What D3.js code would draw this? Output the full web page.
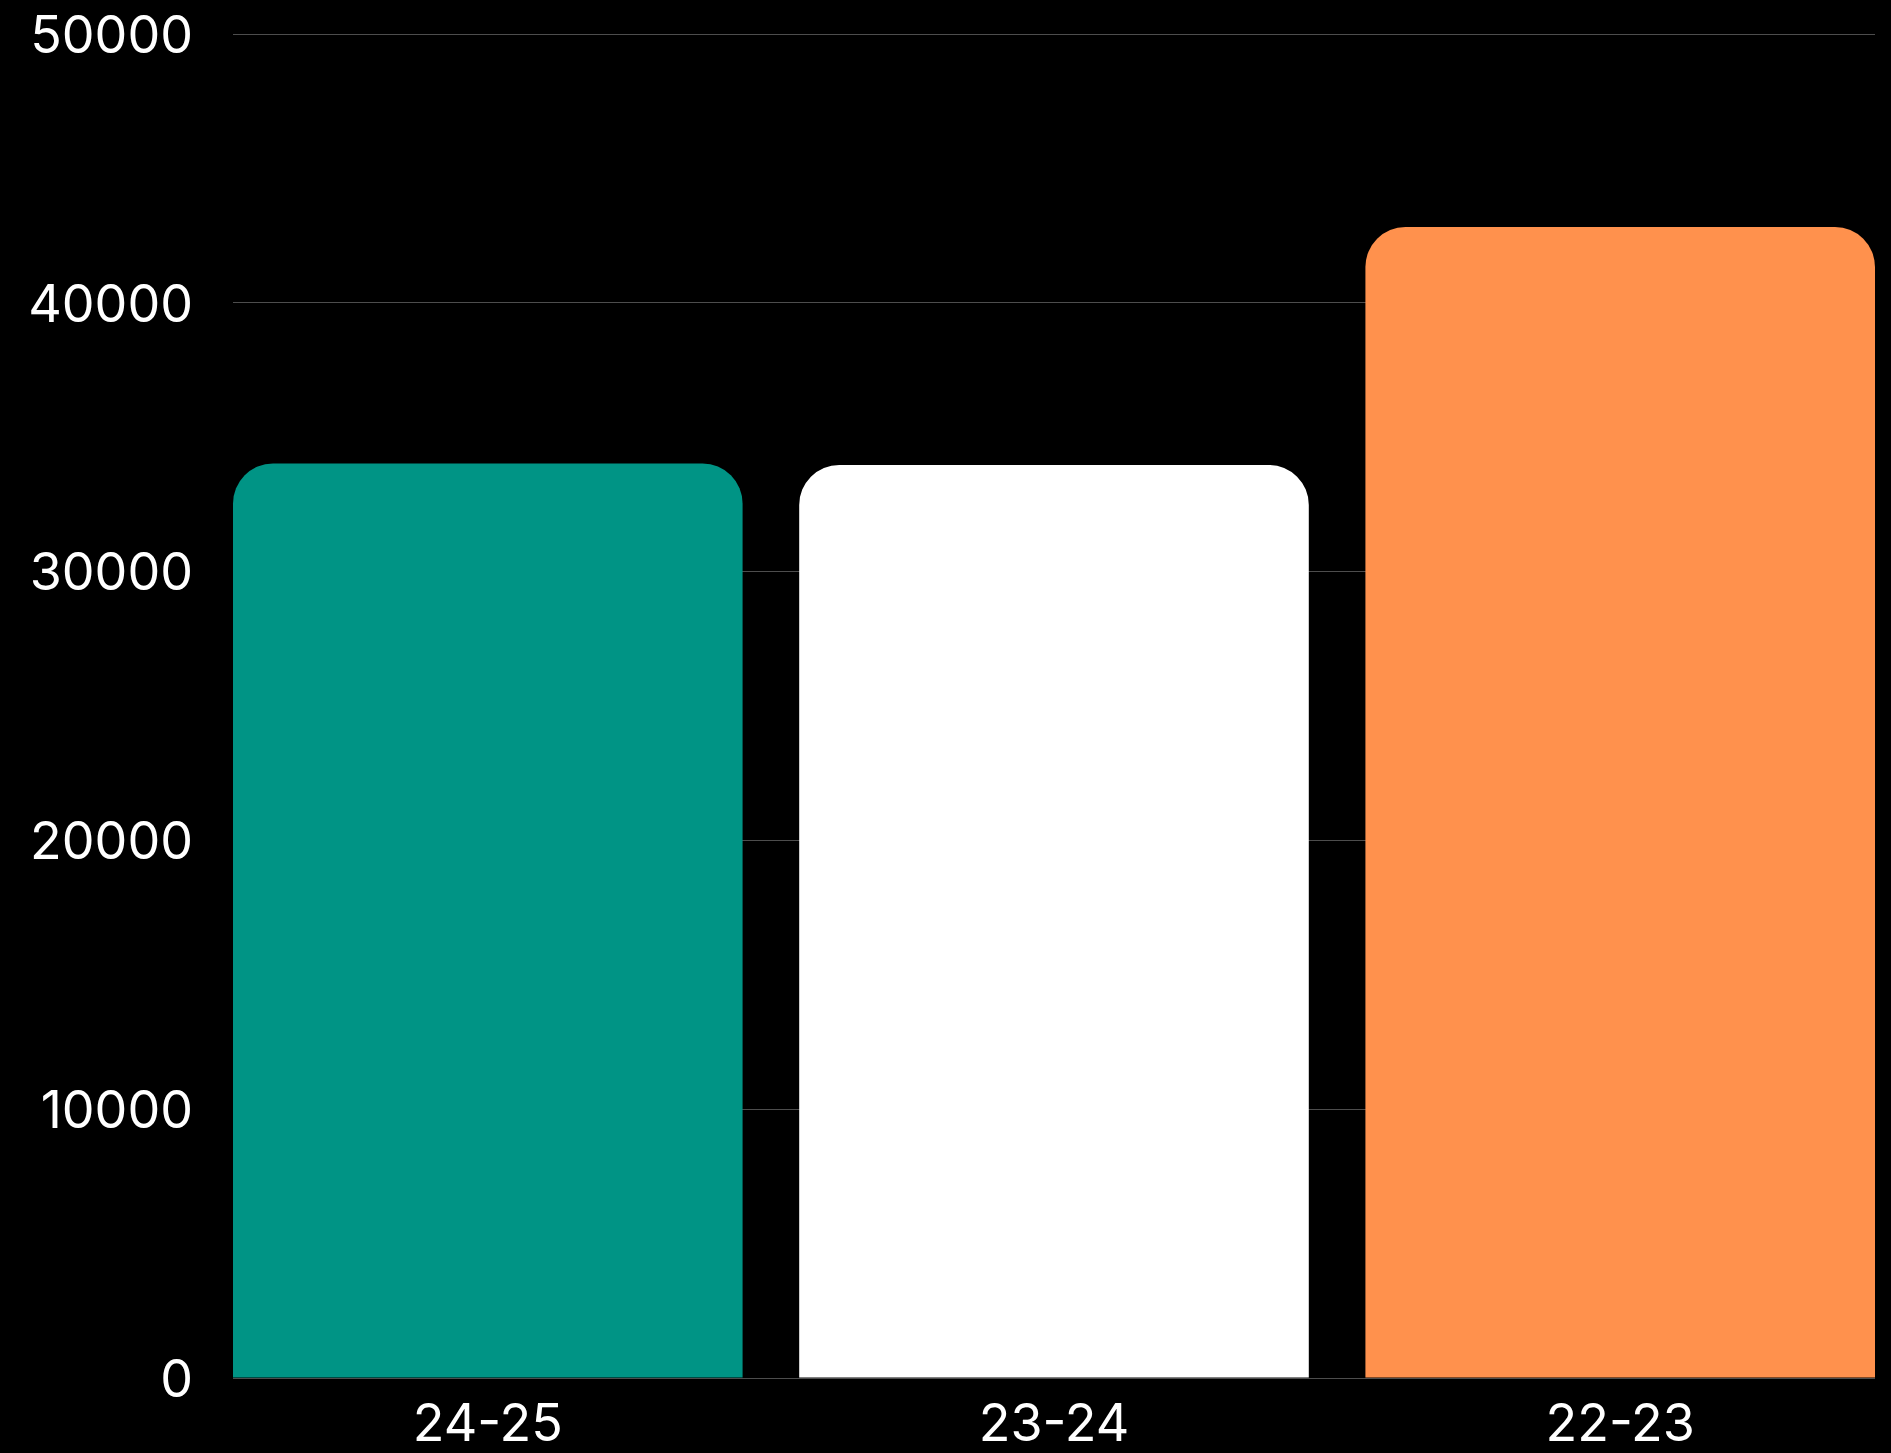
<!DOCTYPE html>
<html>
<head>
<meta charset="utf-8">
<script src="https://cdn.jsdelivr.net/npm/d3@7"></script>
<style>
  html, body { margin: 0; padding: 0; background: #000; }
  svg { display: block; }
</style>
</head>
<body>
<svg id="chart" width="1891" height="1453"></svg>
<script>
const categories = ["24-25", "23-24", "22-23"];
const values = [34000, 33950, 42800];
const barColors = ["#009485", "#ffffff", "#ff914d"];
const yTicks = [0, 10000, 20000, 30000, 40000, 50000];

const W = 1891, H = 1453;
const margin = { left: 233, right: 16, top: 33.5, bottom: 75.5 };
const svg = d3.select("#chart");
svg.append("rect").attr("width", W).attr("height", H).attr("fill", "#000");

const x = d3.scaleBand()
  .domain(categories)
  .range([margin.left, W - margin.right])
  .paddingInner(0.1)
  .paddingOuter(0);

const y = d3.scaleLinear()
  .domain([0, 50000])
  .range([H - margin.bottom, margin.top]);

// grid lines
svg.append("g")
  .selectAll("line")
  .data(yTicks)
  .join("line")
  .attr("x1", margin.left)
  .attr("x2", W - margin.right)
  .attr("y1", d => Math.round(y(d)) + 0.5)
  .attr("y2", d => Math.round(y(d)) + 0.5)
  .attr("stroke", "#4d4d4d")
  .attr("stroke-width", 1);

// y axis labels
const yAxis = d3.axisLeft(y).tickValues(yTicks).tickSize(0).tickPadding(40).tickFormat(d3.format("d"));
const gy = svg.append("g").attr("transform", `translate(${margin.left},0)`).call(yAxis);
gy.select(".domain").remove();
gy.selectAll("text")
  .attr("fill", "#fff")
  .attr("font-family", "Inter, 'Open Sans', sans-serif")
  .attr("font-size", 52)
  .attr("dy", "0.36em");

// bars with rounded top corners
const r = 40;
function barPath(x0, y0, w, h) {
  const rr = Math.min(r, w / 2, h);
  return `M${x0},${y0 + h}` +
    `V${y0 + rr}` +
    `Q${x0},${y0} ${x0 + rr},${y0}` +
    `H${x0 + w - rr}` +
    `Q${x0 + w},${y0} ${x0 + w},${y0 + rr}` +
    `V${y0 + h}Z`;
}
function barPathArc(x0, y0, w, h) {
  const rr = Math.min(r, w / 2, h);
  return `M${x0},${y0 + h}` +
    `V${y0 + rr}` +
    `A${rr},${rr} 0 0 1 ${x0 + rr},${y0}` +
    `H${x0 + w - rr}` +
    `A${rr},${rr} 0 0 1 ${x0 + w},${y0 + rr}` +
    `V${y0 + h}Z`;
}
svg.append("g")
  .selectAll("path")
  .data(categories)
  .join("path")
  .attr("d", (c, i) => barPathArc(x(c), y(values[i]), x.bandwidth(), y(0) - y(values[i])))
  .attr("fill", (c, i) => barColors[i]);

// x axis labels
const xAxis = d3.axisBottom(x).tickSize(0).tickPadding(27);
const gx = svg.append("g").attr("transform", `translate(0,${y(0)})`).call(xAxis);
gx.select(".domain").remove();
gx.selectAll("text")
  .attr("fill", "#fff")
  .attr("font-family", "Inter, 'Open Sans', sans-serif")
  .attr("font-size", 52)
  .attr("dy", "0.71em");
</script>
</body>
</html>
